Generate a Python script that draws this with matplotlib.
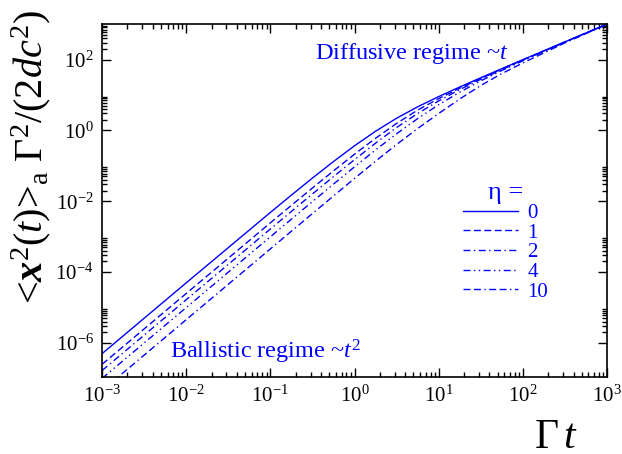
import matplotlib
matplotlib.use("Agg")
import matplotlib.pyplot as plt
from matplotlib.ticker import LogLocator, NullFormatter

plt.rcParams["font.family"] = "Liberation Serif"
plt.rcParams["mathtext.fontset"] = "custom"
plt.rcParams["mathtext.rm"] = "Liberation Serif"
plt.rcParams["mathtext.it"] = "Liberation Serif:italic"
plt.rcParams["mathtext.bf"] = "Liberation Serif:bold"
plt.rcParams["mathtext.bfit"] = "Liberation Serif:italic:bold"

# Gamma*t sample points
t = [0.001, 0.01, 0.1, 0.178, 0.316, 0.562, 1.0, 1.78, 3.16, 5.62,
     10.0, 17.8, 31.6, 56.2, 100.0, 316.0, 1000.0]

# <x^2(t)>_a Gamma^2/(2dc^2)
msd_eta0 = [5.0e-7, 4.983e-5, 0.004837, 0.01494, 0.04507, 0.13206, 0.36788,
            0.94864, 2.2024, 4.6236, 9.0, 16.8, 30.6, 55.2, 99.0, 315.0, 999.0]
msd_eta1 = [2.5e-7, 2.496e-5, 0.002459, 0.007692, 0.023698, 0.07196, 0.21306,
            0.60131, 1.57195, 3.7404, 7.9, 15.5, 29.2, 53.6, 97.0, 313.0, 997.0]
msd_eta2 = [1.667e-7, 1.665e-5, 0.001649, 0.005178, 0.016074, 0.049503, 0.14959,
            0.43742, 1.2063, 3.0, 6.8, 14.2, 27.6, 51.8, 95.0, 311.0, 995.0]
msd_eta4 = [1.0e-7, 9.993e-6, 0.0009934, 0.0031311, 0.0097786, 0.030434, 0.093654,
            0.28237, 0.80, 2.15, 5.3, 12.0, 25.0, 49.0, 92.0, 307.0, 992.0]
msd_eta10 = [4.545e-8, 4.544e-6, 0.00045317, 0.0014324, 0.0044958, 0.014115, 0.044111,
             0.1355, 0.40, 1.13, 3.0, 7.7, 18.5, 40.0, 80.0, 295.0, 985.0]

eta_labels = ["0", "1", "2", "4", "10"]
curves = [msd_eta0, msd_eta1, msd_eta2, msd_eta4, msd_eta10]
styles = ["-", (0, (5, 2.5)), (0, (5, 2.5, 1, 2.5)), (0, (5, 2.5, 1, 2.5, 1, 2.5)),
          (0, (5, 2.5, 5, 2.5, 1, 2.5))]

blue = "#0000ff"

fig = plt.figure(figsize=(6.22, 4.54), dpi=100)
ax = fig.add_axes([0.164, 0.1696, 0.812, 0.7774])

for y, ls, lab in zip(curves, styles, eta_labels):
    ax.plot(t, y, color=blue, lw=1.0, ls=ls, label=lab)

ax.set_xscale("log")
ax.set_yscale("log")
ax.set_xlim(1e-3, 1e3)
ax.set_ylim(1.1e-7, 1e3)

ax.xaxis.set_major_locator(LogLocator(base=10, numticks=20))
ax.xaxis.set_minor_locator(LogLocator(base=10, subs=range(2, 10), numticks=20))
ax.yaxis.set_major_locator(LogLocator(base=100, numticks=20))
ax.yaxis.set_minor_locator(LogLocator(base=100, subs=range(2, 10), numticks=20))
ax.yaxis.set_minor_formatter(NullFormatter())
ax.xaxis.set_minor_formatter(NullFormatter())

ax.tick_params(which="both", direction="in", top=True, right=True, labelsize=15,
               width=1.0)
ax.tick_params(which="major", length=6.5, pad=6)
ax.tick_params(which="minor", length=3.6)
for s in ax.spines.values():
    s.set_linewidth(1.2)

ax.text(0.614, 0.90, r"Diffusive regime ~$t$", transform=ax.transAxes,
        color=blue, fontsize=17.5, ha="center")
ax.text(0.135, 0.052, r"Ballistic regime ~$t^2$", transform=ax.transAxes,
        color=blue, fontsize=17.5, ha="left")

leg = ax.legend(loc="upper left", bbox_to_anchor=(0.685, 0.595), frameon=False,
                title="η =", fontsize=15, title_fontsize=19, handlelength=2.65,
                handletextpad=0.45, labelspacing=0.0, borderpad=0.2)
for txt in leg.get_texts():
    txt.set_color(blue)
leg.get_title().set_color(blue)

fig.text(0.050, 0.654,
         r"<$\mathbfit{x}^{2}(t)$>$_{\mathrm{a}}$ Γ$^{2}$/(2$dc^{2}$)",
         rotation=90, ha="center", va="center", fontsize=29)
fig.text(0.893, 0.014, r"Γ$\,t$", ha="center", va="baseline", fontsize=30)

plt.savefig("out.png", dpi=100)
